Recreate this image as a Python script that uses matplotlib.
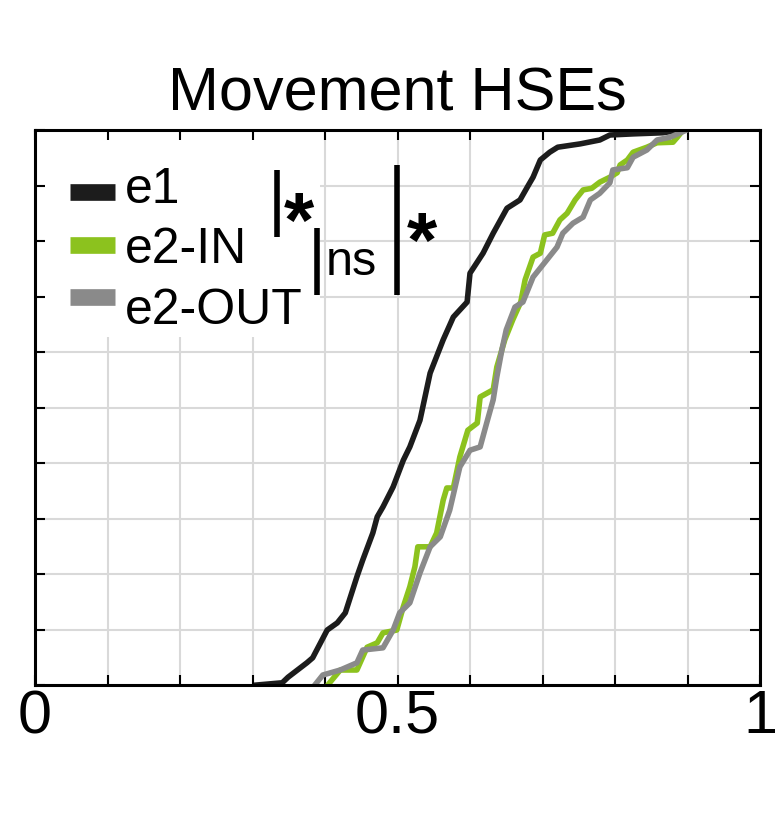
import matplotlib
matplotlib.use('Agg')
import matplotlib.pyplot as plt
import numpy as np

plt.rcParams['font.family'] = ['Liberation Sans', 'DejaVu Sans']

# cumulative fractions
e1_x = [0.306, 0.341, 0.349, 0.375, 0.383, 0.403, 0.417, 0.428, 0.444, 0.452, 0.466, 0.472,
        0.480, 0.494, 0.508, 0.517, 0.531, 0.545, 0.563, 0.577, 0.596, 0.600, 0.618, 0.632,
        0.651, 0.669, 0.679, 0.687, 0.697, 0.710, 0.721, 0.752, 0.779, 0.793, 0.825, 0.866, 0.890]
e1_y = [0, 0.004, 0.014, 0.040, 0.049, 0.099, 0.112, 0.130, 0.195, 0.225, 0.274, 0.303,
        0.321, 0.357, 0.405, 0.429, 0.477, 0.562, 0.622, 0.663, 0.690, 0.742, 0.778, 0.814,
        0.859, 0.874, 0.897, 0.915, 0.946, 0.960, 0.969, 0.975, 0.982, 0.991, 0.993, 0.995, 1.0]

in_x = [0.404, 0.407, 0.421, 0.444, 0.458, 0.472, 0.480, 0.499, 0.508, 0.517, 0.524, 0.528,
        0.545, 0.554, 0.563, 0.568, 0.577, 0.586, 0.597, 0.610, 0.614, 0.632, 0.637, 0.648,
        0.659, 0.670, 0.676, 0.687, 0.697, 0.703, 0.714, 0.724, 0.734, 0.745, 0.756, 0.768,
        0.779, 0.793, 0.803, 0.807, 0.817, 0.825, 0.844, 0.858, 0.880, 0.886, 0.894]
in_y = [0, 0.005, 0.027, 0.027, 0.068, 0.076, 0.094, 0.099, 0.141, 0.177, 0.213, 0.249,
        0.249, 0.274, 0.333, 0.355, 0.355, 0.411, 0.459, 0.472, 0.519, 0.532, 0.573, 0.622,
        0.658, 0.690, 0.730, 0.771, 0.778, 0.811, 0.814, 0.838, 0.850, 0.874, 0.892, 0.895,
        0.906, 0.915, 0.923, 0.937, 0.946, 0.960, 0.969, 0.977, 0.978, 0.987, 1.0]

out_x = [0.386, 0.397, 0.421, 0.444, 0.452, 0.480, 0.494, 0.503, 0.517, 0.531, 0.545, 0.559,
         0.572, 0.586, 0.600, 0.614, 0.623, 0.632, 0.637, 0.644, 0.650, 0.662, 0.673, 0.687,
         0.706, 0.720, 0.728, 0.742, 0.756, 0.766, 0.779, 0.793, 0.797, 0.817, 0.825, 0.844,
         0.858, 0.876, 0.890, 0.899]
out_y = [0, 0.018, 0.027, 0.040, 0.063, 0.067, 0.099, 0.130, 0.148, 0.202, 0.249, 0.267,
         0.315, 0.393, 0.423, 0.429, 0.472, 0.514, 0.555, 0.604, 0.640, 0.681, 0.690, 0.735,
         0.766, 0.789, 0.814, 0.832, 0.843, 0.874, 0.886, 0.905, 0.928, 0.932, 0.951, 0.964,
         0.982, 0.987, 0.995, 1.0]

labels = ['e1', 'e2-IN', 'e2-OUT']
colors = ['#1c1c1c', '#8cc21e', '#8a8a8a']

fig = plt.figure(figsize=(7.82, 8.19), dpi=100)
ax = fig.add_axes([35/782, 134/819, 725/782, 555/819])

ticks = np.round(np.arange(0, 1.01, 0.1), 1)
for t in ticks:
    ax.axvline(t, color='#d9d9d9', lw=1.5, zorder=0)
    ax.axhline(t, color='#d9d9d9', lw=1.5, zorder=0)

# white patch behind the legend
ax.add_patch(plt.Rectangle((0, 0.627), 0.393, 0.373, transform=ax.transAxes,
                           facecolor='white', edgecolor='none', zorder=0.5))

ax.plot(e1_x, e1_y, color=colors[0], lw=4, zorder=2)
ax.plot(in_x, in_y, color=colors[1], lw=4, zorder=2)
ax.plot(out_x, out_y, color=colors[2], lw=4, zorder=2)

ax.set_xlim(0, 1)
ax.set_ylim(0, 1)
ax.set_xticks(ticks)
ax.set_xticklabels(['0' if t == 0 else '0.5' if t == 0.5 else '1' if t == 1 else '' for t in ticks])
ax.set_yticks(ticks)
ax.set_yticklabels([])
ax.tick_params(direction='in', length=7, width=1.5, top=True, right=True,
               labelsize=44, pad=3)
for s in ax.spines.values():
    s.set_linewidth(2.2)

ax.set_title('Movement HSEs', fontsize=44, pad=14)

# legend drawn by hand
hy = [192, 245, 297]
ty = [203, 263, 324]
for lab, col, a, b in zip(labels, colors, hy, ty):
    ya = (685 - a) / 555
    ax.plot([(70-35)/725, (115-35)/725], [ya, ya], transform=ax.transAxes,
            color=col, lw=12, solid_capstyle='butt', zorder=3)
    ax.text((125-35)/725, (685-b)/555, lab, transform=ax.transAxes,
            fontsize=36, va='baseline', ha='left', zorder=3)

# significance bars
def bar(px, top, bot):
    x = (px-35)/725
    ax.plot([x, x], [(685-top)/555, (685-bot)/555], transform=ax.transAxes,
            color='black', lw=4, solid_capstyle='butt', zorder=3)

bar(277, 170, 237)
bar(317, 228, 295)
bar(397, 165, 295)
ax.text((299-35)/725, (685-247)/555, '*', transform=ax.transAxes, fontsize=56,
        fontweight='bold', ha='center', va='baseline', zorder=3)
ax.text((422-35)/725, (685-267)/555, '*', transform=ax.transAxes, fontsize=56,
        fontweight='bold', ha='center', va='baseline', zorder=3)
ax.text((326-35)/725, (685-275)/555, 'ns', transform=ax.transAxes, fontsize=35,
        ha='left', va='baseline', zorder=3)

fig.savefig('out.png', dpi=100)
